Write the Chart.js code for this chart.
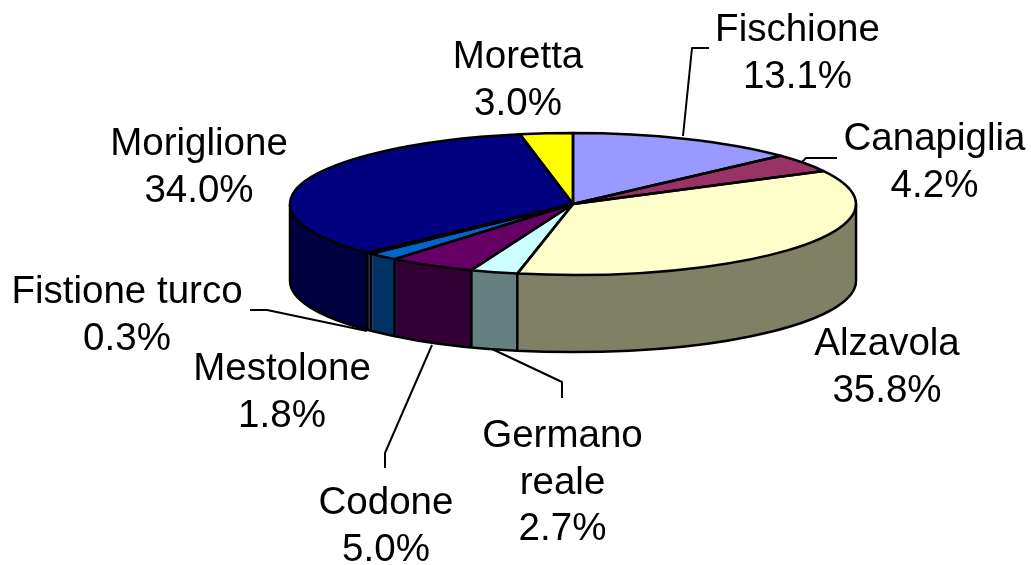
<!DOCTYPE html>
<html>
<head>
<meta charset="utf-8">
<style>html,body{margin:0;padding:0;background:#fff}canvas{display:block}</style>
<script src="https://cdn.jsdelivr.net/npm/chart.js@4"></script>
</head>
<body>
<canvas id="c" width="1031" height="565"></canvas>
<script>
const categories = ['Fischione','Canapiglia','Alzavola','Germano reale','Codone','Mestolone','Fistione turco','Moriglione','Moretta'];
const values = [13.1,4.2,35.8,2.7,5.0,1.8,0.3,34.0,3.0];
const topColors = ['#9999FF','#993366','#FFFFCC','#CCFFFF','#660066','#0066CC','#CCCCFF','#000080','#FFFF00'];
const wallColors = ['#4D4D80','#4D1A33','#808066','#668080','#330033','#003366','#666680','#000040','#808000'];

// layout of the labels and leader lines (not data)
const labelAnchors = [[797.5,41],[934.5,150],[887,355],[562.5,447],[386,514],[282,380],[127,303],[199,155],[518,68]];
const wrapped = [false,false,false,true,false,false,false,false,false];
const leaders = [
  [[709,48],[692,48],[683,136]],
  [[837,158],[806,158],[802,162]],
  null,
  [[562,398],[562,382],[492,349]],
  [[385,468],[385,453],[432,345]],
  null,
  [[250,310],[267,310],[367,331]],
  null,
  null
];
const RADIUS = 283, SQUASH = 71/283, DEPTH = 77, LINE_H = 46.5, FONT_PX = 38.5;

const pie3d = {
  id:'pie3d',
  beforeDatasetsDraw(chart){
    const ctx = chart.ctx, arcs = chart.getDatasetMeta(0).data, cy = arcs[0].y;
    ctx.save();
    ctx.translate(0,cy); ctx.scale(1,SQUASH); ctx.translate(0,-cy);
    for(let d=DEPTH;d>=1;d--){
      ctx.save();
      ctx.translate(0,d/SQUASH);
      arcs.forEach((arc,i)=>{
        const o = arc.options;
        arc.options = Object.assign({},o,{backgroundColor:wallColors[i],borderWidth:0});
        arc.draw(ctx);
        arc.options = o;
      });
      ctx.restore();
    }
  },
  afterDatasetsDraw(chart){
    const ctx = chart.ctx, arcs = chart.getDatasetMeta(0).data;
    ctx.restore();
    const cx = arcs[0].x, cy = arcs[0].y, r = arcs[0].outerRadius, ry = r*SQUASH;
    ctx.save();
    ctx.strokeStyle='#000'; ctx.lineWidth=2.5; ctx.lineJoin='round'; ctx.lineCap='butt';
    // wall edges
    ctx.beginPath();
    ctx.ellipse(cx,cy+DEPTH,r,ry,0,0,Math.PI);
    ctx.moveTo(cx+r,cy); ctx.lineTo(cx+r,cy+DEPTH);
    ctx.moveTo(cx-r,cy); ctx.lineTo(cx-r,cy+DEPTH);
    arcs.forEach(arc=>{
      const s=Math.sin(arc.startAngle), c=Math.cos(arc.startAngle);
      if(s>0){ ctx.moveTo(cx+r*c,cy+ry*s); ctx.lineTo(cx+r*c,cy+ry*s+DEPTH); }
    });
    ctx.stroke();
    // top slices
    arcs.forEach(arc=>{
      ctx.beginPath();
      ctx.moveTo(cx,cy);
      ctx.ellipse(cx,cy,r,ry,0,arc.startAngle,arc.endAngle);
      ctx.closePath();
      ctx.stroke();
    });
    // leader lines
    ctx.lineWidth=2;
    leaders.forEach(l=>{
      if(!l) return;
      ctx.beginPath();
      l.forEach((p,i)=> i?ctx.lineTo(p[0],p[1]):ctx.moveTo(p[0],p[1]));
      ctx.stroke();
    });
    // labels
    ctx.fillStyle='#000';
    ctx.font=FONT_PX+'px "Liberation Sans", Arial, sans-serif';
    ctx.textAlign='center'; ctx.textBaseline='alphabetic';
    categories.forEach((name,i)=>{
      const lines = (wrapped[i]?name.split(' '):[name]).concat(values[i].toFixed(1)+'%');
      lines.forEach((t,j)=>ctx.fillText(t,labelAnchors[i][0],labelAnchors[i][1]+j*LINE_H));
    });
    ctx.restore();
  }
};

new Chart(document.getElementById('c'),{
  type:'pie',
  data:{labels:categories,datasets:[{data:values,backgroundColor:topColors,borderWidth:0,clip:false}]},
  options:{
    responsive:false,animation:false,radius:RADIUS,
    layout:{padding:{left:115,top:0,right:0,bottom:157}},
    plugins:{legend:{display:false},tooltip:{enabled:false}}
  },
  plugins:[pie3d]
});
</script>
</body>
</html>
